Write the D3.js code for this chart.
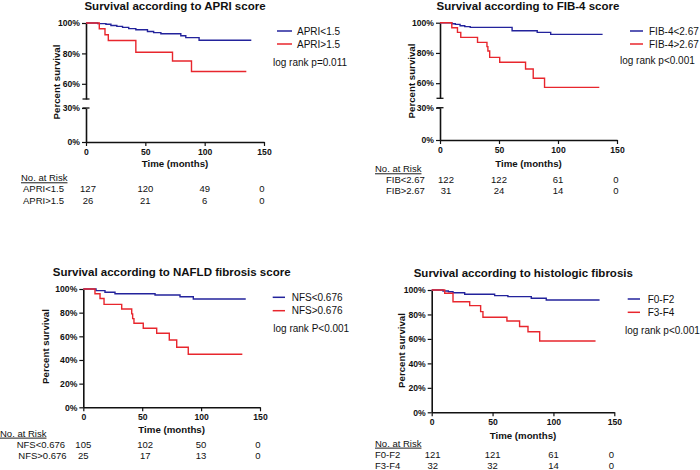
<!DOCTYPE html>
<html><head><meta charset="utf-8">
<script src="https://cdn.jsdelivr.net/npm/d3@7"></script>
<style>
body{margin:0;background:#fff;}
svg text{font-family:"Liberation Sans",Arial,sans-serif;fill:#111;}
</style></head>
<body><svg id="c" width="700" height="470"></svg>
<script>
// ---------------- data ----------------
const timeTicks = [0, 50, 100, 150];
const brokenUpperTicks = [60, 80, 100];
const brokenLowerTicks = [0, 30];
const fullTicks = [0, 20, 40, 60, 80, 100];

const titles = [
  "Survival according to APRI score",
  "Survival according to FIB-4 score",
  "Survival according to NAFLD fibrosis score",
  "Survival according to histologic fibrosis"
];
const legendNames = [
  ["APRI<1.5", "APRI>1.5"],
  ["FIB-4<2.67", "FIB-4>2.67"],
  ["NFS<0.676", "NFS>0.676"],
  ["F0-F2", "F3-F4"]
];
const riskRowNames = [
  ["APRI<1.5", "APRI>1.5"],
  ["FIB<2.67", "FIB>2.67"],
  ["NFS<0.676", "NFS>0.676"],
  ["F0-F2", "F3-F4"]
];
const pValues = ["log rank p=0.011", "log rank p<0.001", "log rank P<0.001", "log rank p<0.001"];

// step curves: [time (months), percent survival]
const apriLow = [[0,100],[9.9,99.6],[16.8,99.2],[21,98.4],[26,97.8],[30.8,97.1],[36,96.3],[42,95.6],[51.8,94.4],[57,93.7],[63.1,92.9],[79.9,91.6],[84.1,90.4],[95.3,88.7],[139.3,88.7]];
const apriHigh = [[0,100],[11.2,96.2],[16,92.3],[18.8,88.5],[42,80.8],[72.9,75.0],[88.9,68.1],[135.1,68.1]];
const fibLow = [[0,100],[10,99.3],[13,98.9],[17,98.0],[21,97.4],[25.6,96.9],[61.1,94.7],[82.4,93.6],[93.8,92.3],[137.8,92.3]];
const fibHigh = [[0,100],[10,96.7],[14.8,93.6],[17.6,90.3],[31.8,87.0],[39.8,84.2],[40.6,81.3],[42.1,77.1],[50.6,73.8],[72.5,69.4],[79,63.3],[88.6,57.2],[135,57.2]];
const nfsLow = [[0,100],[10.8,98.6],[18.4,97.2],[26.9,96.0],[60.9,94.9],[82.1,93.5],[93.4,91.5],[137.9,91.5]];
const nfsHigh = [[0,100],[9.9,96],[14.2,92],[17.6,87.0],[32.6,83.1],[41.1,79],[41.9,75],[43,71],[50.9,66.8],[62.3,62.6],[73,56.9],[79.3,50.7],[89.1,44.8],[135,44.8]];
const histLow = [[0,100],[9.3,99.2],[13.7,98.6],[17.5,97.8],[27.1,96.5],[51.7,95.4],[62.6,94.6],[81.8,93.2],[94.1,91.8],[137.9,91.8]];
const histHigh = [[0,100],[10.7,97.3],[17.5,90.4],[31.2,87.2],[40.2,82.3],[42.1,77.7],[61.8,74.7],[72.2,70.1],[79.1,65.9],[88.7,58.3],[134.6,58.3]];

const apriRisk = [[127,120,49,0],[26,21,6,0]];
const fibRisk = [[122,122,61,0],[31,24,14,0]];
const nfsRisk = [[105,102,50,0],[25,17,13,0]];
const histRisk = [[121,121,61,0],[32,32,14,0]];

const curves = [[apriLow, apriHigh],[fibLow, fibHigh],[nfsLow, nfsHigh],[histLow, histHigh]];
const risks = [apriRisk, fibRisk, nfsRisk, histRisk];

// ---------------- layout ----------------
const BLUE = "#23239c", RED = "#e8262d";
const layout = [
  {x0:86, x1:264, broken:true, yUp:[99,23], yLow:[142,108], tx:175, ty:9.5, ylx:57, yly:82,
   timeY:164, headX:21, headY:178, rowX:[23,23], rowY:[189,201], colDx:[2,0,0,-2],
   lx0:277, lx1:292, ltx:297, ly:[31,44], px:273, py:62},
  {x0:440, x1:617, broken:true, yUp:[98.3,22.7], yLow:[140,107.7], tx:528, ty:9.5, ylx:411.7, yly:81,
   timeY:163.3, headX:375, headY:169, rowX:[386,386], rowY:[180,191], colDx:[6,0,0,-1],
   lx0:630, lx1:643, ltx:649, ly:[31,44], px:620, py:60},
  {x0:83.3, x1:260, broken:false, yFull:[407.3,289], tx:171.7, ty:276, ylx:46, yly:346.5,
   timeY:430, headX:0, headY:433.3, rowX:[16.7,18.3], rowY:[444.3,455.7], colDx:[0,3,0,-2],
   lx0:272.7, lx1:285, ltx:291.7, ly:[297.3,310.7], px:273.3, py:328.3},
  {x0:431.7, x1:614.3, broken:false, yFull:[412.3,290], tx:523.3, ty:276.5, ylx:401.7, yly:350.5,
   timeY:436, headX:375, headY:443.3, rowX:[375,375], rowY:[454.3,466], colDx:[1,0,0,-3],
   lx0:627.7, lx1:640, ltx:647.7, ly:[299,312.3], px:625, py:330.7}
];

const svg = d3.select("#c");
const pct = d => d + "%";

function styleAxis(g){
  g.selectAll(".domain").attr("stroke","#111").attr("stroke-width",1.6);
  g.selectAll(".tick line").attr("stroke","#111").attr("stroke-width",1.2);
  g.selectAll(".tick text").attr("font-size","8.6px").attr("font-weight","bold")
    .attr("font-family","'Liberation Sans',Arial,sans-serif").attr("fill","#111");
}

layout.forEach((L, i) => {
  const g = svg.append("g");
  const x = d3.scaleLinear().domain([0,150]).range([L.x0, L.x1]);
  let yMain, y0;
  if (L.broken) {
    const yU = d3.scaleLinear().domain([50,100]).range(L.yUp);
    const yL = d3.scaleLinear().domain([0,30]).range(L.yLow);
    yMain = yU; y0 = yL(0);
    const aU = g.append("g").attr("transform",`translate(${L.x0},0)`)
      .call(d3.axisLeft(yU).tickValues(brokenUpperTicks).tickFormat(pct).tickSize(4).tickSizeOuter(0).tickPadding(2));
    styleAxis(aU);
    const aL = g.append("g").attr("transform",`translate(${L.x0},0)`)
      .call(d3.axisLeft(yL).tickValues(brokenLowerTicks).tickFormat(pct).tickSize(4).tickSizeOuter(0).tickPadding(2));
    styleAxis(aL);
    // break caps
    [yU(50), yL(30)].forEach(yy => {
      g.append("line").attr("x1",L.x0-3.5).attr("x2",L.x0+3.5).attr("y1",yy).attr("y2",yy)
        .attr("stroke","#111").attr("stroke-width",1.3);
    });
  } else {
    const yF = d3.scaleLinear().domain([0,100]).range(L.yFull);
    yMain = yF; y0 = yF(0);
    const aF = g.append("g").attr("transform",`translate(${L.x0},0)`)
      .call(d3.axisLeft(yF).tickValues(fullTicks).tickFormat(pct).tickSize(4).tickSizeOuter(0).tickPadding(2));
    styleAxis(aF);
  }
  const ax = g.append("g").attr("transform",`translate(0,${y0})`)
    .call(d3.axisBottom(x).tickValues(timeTicks).tickSize(4).tickSizeOuter(0).tickPadding(3));
  styleAxis(ax);

  // curves
  const line = d3.line().x(d => x(d[0])).y(d => yMain(d[1])).curve(d3.curveStepAfter);
  curves[i].forEach((c, k) => {
    g.append("path").datum(c).attr("d", line).attr("fill","none")
      .attr("stroke", k === 0 ? BLUE : RED).attr("stroke-width",1.4);
  });

  // title
  g.append("text").attr("x",L.tx).attr("y",L.ty).attr("text-anchor","middle")
    .attr("font-size","11.5px").attr("font-weight","bold").text(titles[i]);
  // y label
  g.append("text").attr("transform",`translate(${L.ylx},${L.yly}) rotate(-90)`)
    .attr("text-anchor","middle").attr("dy","0.35em")
    .attr("font-size","9.7px").attr("font-weight","bold").text("Percent survival");
  // x label
  g.append("text").attr("x",(L.x0+L.x1)/2).attr("y",L.timeY).attr("dy","0.35em").attr("text-anchor","middle")
    .attr("font-size","9.7px").attr("font-weight","bold").text("Time (months)");

  // legend
  legendNames[i].forEach((nm, k) => {
    g.append("line").attr("x1",L.lx0).attr("x2",L.lx1).attr("y1",L.ly[k]).attr("y2",L.ly[k])
      .attr("stroke", k === 0 ? BLUE : RED).attr("stroke-width",1.5);
    g.append("text").attr("x",L.ltx).attr("y",L.ly[k]).attr("dy","0.35em")
      .attr("font-size","10px").text(nm);
  });
  g.append("text").attr("x",L.px).attr("y",L.py).attr("dy","0.35em")
    .attr("font-size","10px").text(pValues[i]);

  // number at risk
  g.append("text").attr("x",L.headX).attr("y",L.headY).attr("dy","0.35em")
    .attr("font-size","9.5px").attr("text-decoration","underline").text("No. at Risk");
  risks[i].forEach((row, r) => {
    g.append("text").attr("x",L.rowX[r]).attr("y",L.rowY[r]).attr("dy","0.35em")
      .attr("font-size","9.5px").text(riskRowNames[i][r]);
    row.forEach((v, c) => {
      g.append("text").attr("x", x(timeTicks[c]) + L.colDx[c]).attr("y",L.rowY[r]).attr("dy","0.35em")
        .attr("text-anchor","middle").attr("font-size","9.5px").text(v);
    });
  });
});
</script>
</body></html>
